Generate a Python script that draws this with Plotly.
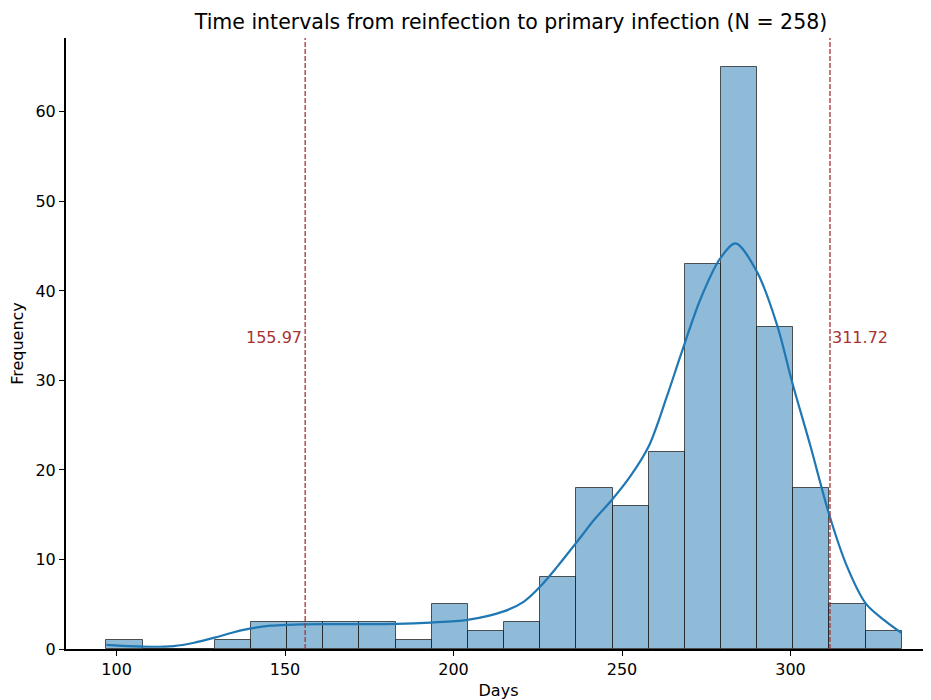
import plotly.graph_objects as go

# ---- data ----
BIN_START = 97.0
BIN_END = 333.0
COUNTS = [1, 0, 0, 1, 3, 3, 3, 3, 1, 5, 2, 3, 8, 18, 16, 22, 43, 65, 36, 18, 5, 2]

KDE_X = [97, 107.6, 117, 123, 129.4, 134.8, 139.8, 145.7, 150.7, 161.5, 172.4, 183,
         193.2, 204.1, 214.9, 220.9, 225.8, 230.8, 236.7, 242.1, 247.1,
         252.5, 258.0, 263.4, 267.4, 273.3, 279.1, 283.7, 290.1, 296.1, 300.5, 305.9,
         311.5, 316.8, 322.3, 327.7, 332.9]
KDE_Y = [0.45, 0.26, 0.33, 0.7, 1.3, 1.87, 2.3, 2.6, 2.7, 2.77, 2.77, 2.8,
         2.95, 3.25, 4.2, 5.3, 7.0, 9.2, 12.0, 14.6, 16.7,
         19.3, 22.7, 28.3, 32.8, 39.1, 43.6, 45.3, 42.1, 36.1, 29.8, 22.7,
         15.0, 9.2, 5.1, 3.25, 1.8]

LOWER = 155.97
UPPER = 311.72
X_TICKS = [100, 150, 200, 250, 300]
Y_TICKS = [0, 10, 20, 30, 40, 50, 60]
TITLE = "Time intervals from reinfection to primary infection (N = 258)"

# ---- derived bin geometry ----
n_bins = len(COUNTS)
bw = (BIN_END - BIN_START) / n_bins
centers = [BIN_START + bw * (i + 0.5) for i in range(n_bins)]

FONT = "DejaVu Sans"
RED = "#a83232"

# page body has an 8px default margin; size the figure to fit the 931x700 window
W, H = 923, 692

fig = go.Figure()
fig.add_trace(go.Bar(
    x=centers, y=COUNTS, width=bw,
    marker=dict(color="rgba(31,119,180,0.5)",
                line=dict(color="rgba(30,30,30,0.75)", width=1)),
    showlegend=False, hoverinfo="x+y",
))
fig.add_trace(go.Scatter(
    x=KDE_X, y=KDE_Y, mode="lines",
    line=dict(color="#1f77b4", width=2.2, shape="spline", smoothing=0.9),
    showlegend=False,
))

for v in (LOWER, UPPER):
    fig.add_shape(type="line", xref="x", yref="paper", x0=v, x1=v, y0=0, y1=1,
                  line=dict(color=RED, width=1.3, dash="5px,2px"), layer="above")

fig.add_annotation(x=LOWER, y=34.8, xref="x", yref="y", text=f"{LOWER:.2f}",
                   showarrow=False, xanchor="right", yanchor="middle", xshift=-1,
                   font=dict(family=FONT, size=16, color=RED))
fig.add_annotation(x=UPPER, y=34.8, xref="x", yref="y", text=f"{UPPER:.2f}",
                   showarrow=False, xanchor="left", yanchor="middle", xshift=0,
                   font=dict(family=FONT, size=16, color=RED))

fig.update_layout(
    width=W, height=H,
    margin=dict(l=58, r=0, t=30, b=51, autoexpand=False),
    paper_bgcolor="white", plot_bgcolor="white",
    bargap=0,
    font=dict(family=FONT, size=16, color="black"),
    title=dict(text=TITLE, x=(511 - 8) / W, xref="container", xanchor="center",
               y=1 - (22 - 8) / H, yref="container", yanchor="middle",
               font=dict(family=FONT, size=20.5, color="black")),
)
fig.update_xaxes(
    range=[85.0, 341.7], tickvals=X_TICKS, ticktext=[str(t) for t in X_TICKS],
    automargin=False,
    showgrid=False, zeroline=False, showline=True, linecolor="black", linewidth=2,
    ticks="outside", ticklen=5, tickwidth=1, tickcolor="black",
    tickfont=dict(family=FONT, size=16),
    title=dict(text="Days", font=dict(family=FONT, size=16), standoff=10),
)
fig.update_yaxes(
    range=[0, 68.25], tickvals=Y_TICKS, ticktext=[str(t) for t in Y_TICKS],
    automargin=False,
    showgrid=False, zeroline=False, showline=True, linecolor="black", linewidth=2,
    ticks="outside", ticklen=5, tickwidth=1, tickcolor="black",
    tickfont=dict(family=FONT, size=16),
    title=dict(text="Frequency", font=dict(family=FONT, size=16), standoff=8),
)

fig.write_html("out.html")
